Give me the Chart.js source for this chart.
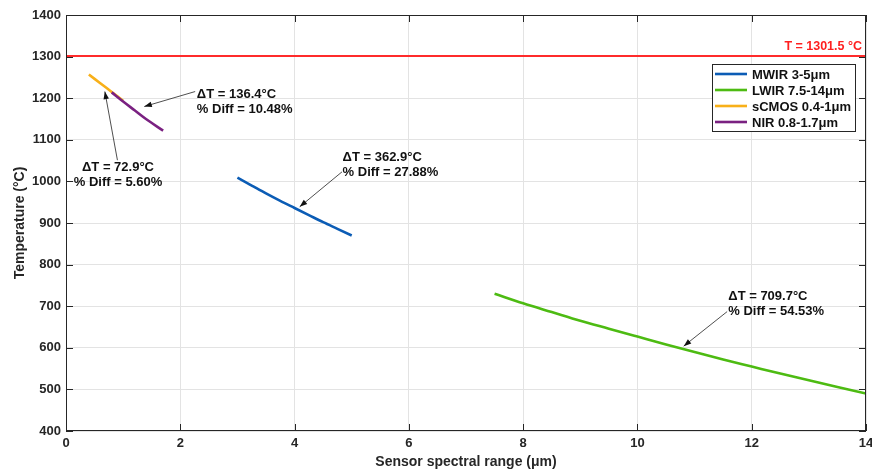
<!DOCTYPE html>
<html>
<head>
<meta charset="utf-8">
<script src="https://cdn.jsdelivr.net/npm/chart.js@4/dist/chart.umd.min.js"></script>
<style>
html, body { margin: 0; padding: 0; background: #fff; }
#wrap { width: 872px; height: 475px; }
</style>
</head>
<body>
<div id="wrap"><canvas id="chart"></canvas></div>
<script>
// sensor curves (wavelength in um, temperature in C)
const mwirX = [3, 3.25, 3.5, 3.75, 4, 4.25, 4.5, 4.75, 5];
const mwirY = [1009, 990, 971, 953, 936, 919, 902, 886, 870];
const lwirX = [7.5, 8, 8.5, 9, 9.5, 10, 10.5, 11, 11.5, 12, 12.5, 13, 13.5, 14];
const lwirY = [730, 707, 686, 665, 646, 627, 608, 590, 572, 555, 538, 522, 506, 490];
const scmosX = [0.4, 0.6, 0.8, 1.0];
const scmosY = [1257, 1236, 1215, 1194];
const nirX = [0.8, 1.0, 1.2, 1.4, 1.7];
const nirY = [1214, 1192, 1171, 1150, 1122];
const trueTemp = 1301.5;

const xTicks = [0, 2, 4, 6, 8, 10, 12, 14];
const yTicks = [400, 500, 600, 700, 800, 900, 1000, 1100, 1200, 1300, 1400];

// annotation text and arrow (data coords)
const notes = [
    { lines: ['\u0394T = 136.4\u00b0C', '% Diff = 10.48%'], x: 2.29, y: 1210, align: 'left', from: [2.26, 1216], to: [1.37, 1180] },
    { lines: ['\u0394T = 72.9\u00b0C', '% Diff = 5.60%'], x: 0.91, y: 1034, align: 'center', from: [0.90, 1051], to: [0.68, 1216] },
    { lines: ['\u0394T = 362.9\u00b0C', '% Diff = 27.88%'], x: 4.84, y: 1058, align: 'left', from: [4.83, 1023], to: [4.09, 939] },
    { lines: ['\u0394T = 709.7\u00b0C', '% Diff = 54.53%'], x: 11.59, y: 723, align: 'left', from: [11.57, 687], to: [10.81, 604] }
];

function pts(xs, ys) {
    return xs.map((x, i) => ({ x: x, y: ys[i] }));
}

Chart.defaults.font.family = "'Liberation Sans', Arial, sans-serif";
Chart.defaults.color = '#262626';

const datasets = [
    { label: 'MWIR 3-5\u03bcm', data: pts(mwirX, mwirY), borderColor: '#0b5cb5', order: 2 },
    { label: 'LWIR 7.5-14\u03bcm', data: pts(lwirX, lwirY), borderColor: '#4dbb12', order: 2 },
    { label: 'sCMOS 0.4-1\u03bcm', data: pts(scmosX, scmosY), borderColor: '#f8b019', order: 2 },
    { label: 'NIR 0.8-1.7\u03bcm', data: pts(nirX, nirY), borderColor: '#7a2181', order: 1 },
    { label: 'true', data: pts([0, 14], [trueTemp, trueTemp]), borderColor: '#ff2b2b', borderWidth: 2, order: 3 }
];
datasets.forEach(d => {
    d.showLine = true;
    d.pointRadius = 0;
    d.cubicInterpolationMode = 'monotone';
    if (!d.borderWidth) d.borderWidth = 2.6;
    d.backgroundColor = d.borderColor;
});

const extras = {
    id: 'extras',
    afterDraw(chart) {
        const ctx = chart.ctx;
        const a = chart.chartArea;
        const xs = chart.scales.x, ys = chart.scales.y;
        ctx.save();

        // box + inward ticks
        ctx.strokeStyle = '#262626';
        ctx.lineWidth = 1;
        ctx.strokeRect(a.left + 0.5, a.top + 0.5, a.right - a.left - 1, a.bottom - a.top - 1);
        ctx.beginPath();
        xTicks.forEach(t => {
            const px = Math.round(xs.getPixelForValue(t)) + 0.5;
            ctx.moveTo(px, a.bottom); ctx.lineTo(px, a.bottom - 7);
            ctx.moveTo(px, a.top); ctx.lineTo(px, a.top + 7);
        });
        yTicks.forEach(t => {
            const py = Math.round(ys.getPixelForValue(t)) + 0.5;
            ctx.moveTo(a.left, py); ctx.lineTo(a.left + 7, py);
            ctx.moveTo(a.right, py); ctx.lineTo(a.right - 7, py);
        });
        ctx.stroke();

        // true temperature label
        ctx.fillStyle = '#ff2020';
        ctx.font = "bold 12.5px 'Liberation Sans', Arial, sans-serif";
        ctx.textAlign = 'right';
        ctx.textBaseline = 'bottom';
        ctx.fillText('T = 1301.5 \u00b0C', a.right - 4, ys.getPixelForValue(trueTemp) - 3);

        // annotations
        ctx.font = "bold 13px 'Liberation Sans', Arial, sans-serif";
        ctx.fillStyle = '#111';
        ctx.strokeStyle = '#222';
        ctx.lineWidth = 0.8;
        ctx.textBaseline = 'middle';
        notes.forEach(n => {
            ctx.textAlign = n.align;
            const px = xs.getPixelForValue(n.x), py = ys.getPixelForValue(n.y);
            n.lines.forEach((l, i) => ctx.fillText(l, px, py + i * 15));
            const x0 = xs.getPixelForValue(n.from[0]), y0 = ys.getPixelForValue(n.from[1]);
            const x1 = xs.getPixelForValue(n.to[0]), y1 = ys.getPixelForValue(n.to[1]);
            const ang = Math.atan2(y1 - y0, x1 - x0);
            ctx.beginPath();
            ctx.moveTo(x0, y0); ctx.lineTo(x1, y1);
            ctx.stroke();
            ctx.beginPath();
            ctx.moveTo(x1, y1);
            ctx.lineTo(x1 - 8 * Math.cos(ang - 0.35), y1 - 8 * Math.sin(ang - 0.35));
            ctx.lineTo(x1 - 8 * Math.cos(ang + 0.35), y1 - 8 * Math.sin(ang + 0.35));
            ctx.closePath();
            ctx.fill();
        });

        // legend box
        const lx = 712, ly = 64, lw = 143, lh = 67;
        ctx.fillStyle = '#fff';
        ctx.fillRect(lx, ly, lw, lh);
        ctx.strokeStyle = '#262626';
        ctx.lineWidth = 1;
        ctx.strokeRect(lx + 0.5, ly + 0.5, lw, lh);
        ctx.textAlign = 'left';
        ctx.font = "bold 13px 'Liberation Sans', Arial, sans-serif";
        datasets.slice(0, 4).forEach((d, i) => {
            const yy = ly + 10 + i * 16;
            ctx.strokeStyle = d.borderColor;
            ctx.lineWidth = 2.6;
            ctx.beginPath();
            ctx.moveTo(lx + 3, yy); ctx.lineTo(lx + 35, yy);
            ctx.stroke();
            ctx.fillStyle = '#111';
            ctx.fillText(d.label, lx + 40, yy + 1);
        });
        ctx.restore();
    }
};

new Chart(document.getElementById('chart'), {
    type: 'scatter',
    data: { datasets: datasets },
    options: {
        responsive: true,
        maintainAspectRatio: false,
        animation: false,
        layout: { padding: { top: 15, right: 6, left: 0, bottom: 0 } },
        plugins: { legend: { display: false }, tooltip: { enabled: false } },
        scales: {
            x: {
                type: 'linear', min: 0, max: 14,
                afterBuildTicks: s => { s.ticks = xTicks.map(v => ({ value: v })); },
                afterFit: s => { s.height = 44; s.paddingRight = 0; s.paddingLeft = 0; },
                grid: { color: '#e3e3e3', drawTicks: false },
                border: { display: false },
                ticks: { padding: 5, font: { size: 13, weight: 'bold' }, color: '#262626', maxRotation: 0 },
                title: { display: true, text: 'Sensor spectral range (\u03bcm)', font: { size: 14, weight: 'bold' }, color: '#262626', padding: { top: 1 } }
            },
            y: {
                type: 'linear', min: 400, max: 1400,
                afterBuildTicks: s => { s.ticks = yTicks.map(v => ({ value: v })); },
                afterFit: s => { s.width = 66; s.paddingTop = 0; s.paddingBottom = 0; },
                grid: { color: '#e3e3e3', drawTicks: false },
                border: { display: false },
                ticks: { padding: 5, font: { size: 13, weight: 'bold' }, color: '#262626', callback: v => String(v) },
                title: { display: true, text: 'Temperature (\u00b0C)', font: { size: 14, weight: 'bold' }, color: '#262626', padding: { top: 12, bottom: 0 } }
            }
        }
    },
    plugins: [extras]
});
</script>
</body>
</html>
